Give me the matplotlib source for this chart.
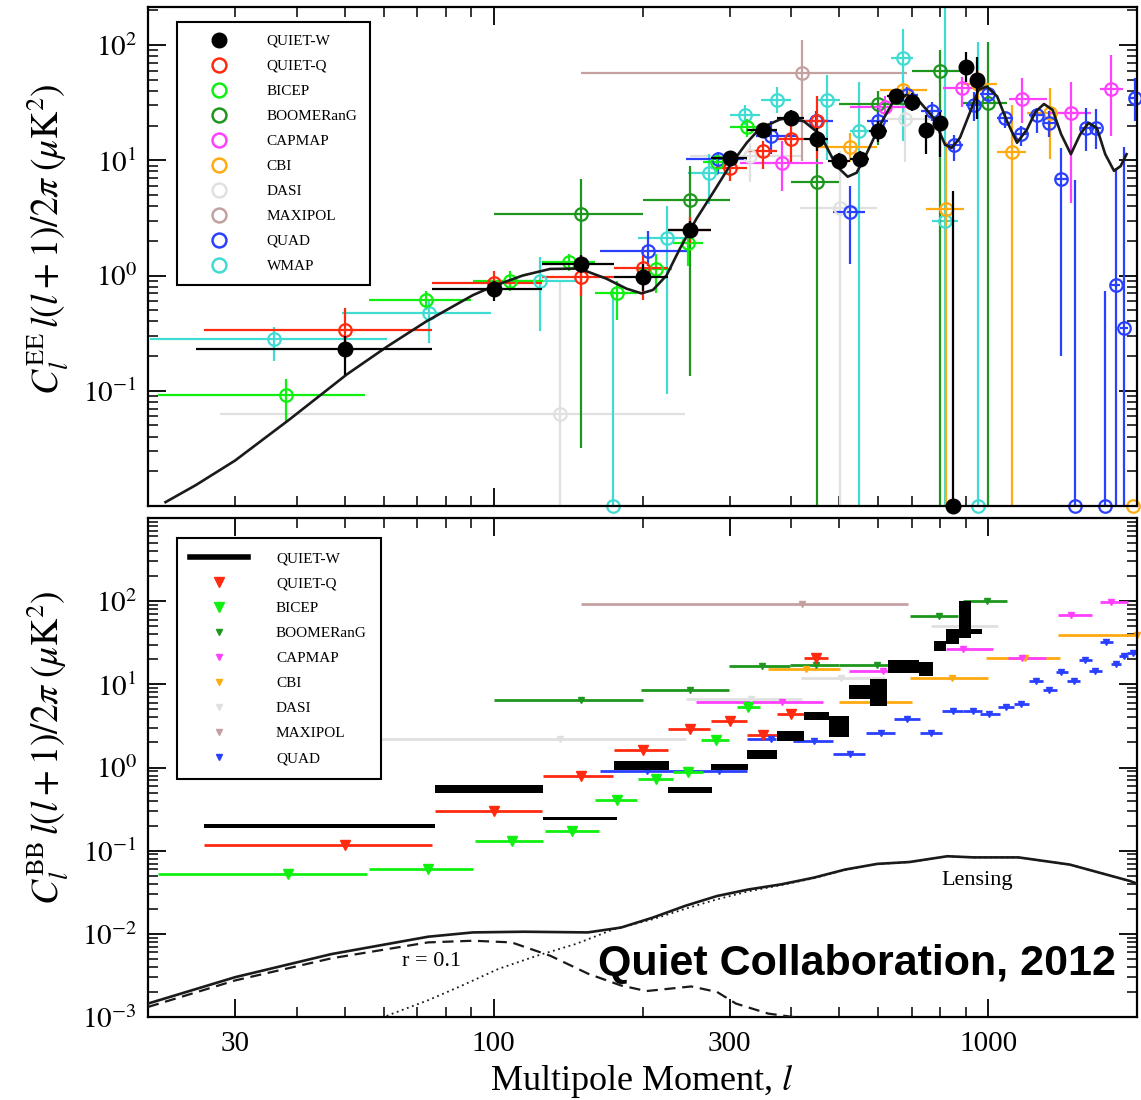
import numpy as np
import matplotlib
matplotlib.use("Agg")
import matplotlib.pyplot as plt
from matplotlib.lines import Line2D
from matplotlib.ticker import FixedLocator, NullFormatter, FixedFormatter

plt.rcParams["font.family"] = "serif"
plt.rcParams["font.serif"] = ["Liberation Serif", "DejaVu Serif"]
plt.rcParams["mathtext.fontset"] = "stix"

# ---------------- EE band powers ----------------
# each experiment: l, C_l, l range (lmin, lmax), error range (lo, hi)
qw_ee_l = [50, 100, 150, 200, 250, 300, 350, 400, 450, 500, 550, 600, 650, 700, 750, 800, 850, 900, 950]
qw_ee_cl = [0.23, 0.76, 1.25, 0.97, 2.5, 10.5, 18.3, 23.5, 15.4, 9.9, 10.2, 17.9, 36, 32, 18.5, 21, 0.01, 65, 50]
qw_ee_lmin = [25, 75, 125, 175, 225, 275, 325, 375, 425, 475, 525, 575, 625, 675, 725, 775, 825, 875, 925]
qw_ee_lmax = [75, 125, 175, 225, 275, 325, 375, 425, 475, 525, 575, 625, 675, 725, 775, 825, 875, 925, 975]
qw_ee_lo = [0.137, 0.60, 1.05, 0.73, 2.3, 9.3, 16.5, 20, 12, 8.5, 8.8, 14.5, 31, 27, 11.3, 10.6, 0.01, 48, 23]
qw_ee_hi = [0.30, 0.89, 1.5, 1.27, 3.0, 12, 20.5, 27.5, 19, 11.5, 12, 22, 41, 38, 24.8, 26.4, 5.4, 87, 79]

qq_ee_l = [50, 100, 150, 200, 250, 300, 350, 400, 450]
qq_ee_cl = [0.34, 0.87, 0.98, 1.17, 2.5, 8.5, 12, 15.4, 21.8]
qq_ee_lmin = [26, 75, 125, 175, 225, 275, 325, 375, 425]
qq_ee_lmax = [75, 125, 175, 225, 275, 325, 375, 425, 475]
qq_ee_lo = [0.235, 0.67, 0.66, 0.61, 1.9, 6.6, 8.4, 9.6, 10.2]
qq_ee_hi = [0.52, 1.1, 1.22, 1.78, 3.2, 9.8, 14.6, 20.4, 35.8]

bicep_ee_l = [38, 73, 108, 142, 178, 213, 247, 283, 326]
bicep_ee_cl = [0.092, 0.61, 0.90, 1.32, 0.70, 1.13, 1.92, 9.6, 19.5]
bicep_ee_lmin = [21, 56, 91, 125, 160, 196, 230, 265, 300]
bicep_ee_lmax = [55, 90, 126, 160, 195, 229, 265, 300, 350]
bicep_ee_lo = [0.055, 0.50, 0.73, 1.1, 0.41, 0.70, 1.22, 7.5, 16]
bicep_ee_hi = [0.127, 0.73, 1.1, 1.55, 0.89, 1.55, 2.4, 11.5, 23]

boom_ee_l = [150, 250, 450, 600, 800, 1000]
boom_ee_cl = [3.4, 4.5, 6.5, 30.8, 59, 31.4]
boom_ee_lmin = [100, 200, 400, 500, 700, 890]
boom_ee_lmax = [200, 300, 500, 700, 890, 1090]
boom_ee_lo = [0.032, 0.135, 0.01, 13.7, 0.01, 0.01]
boom_ee_hi = [6.9, 9.0, 10.2, 40, 90.5, 107]

capmap_ee_l = [383, 620, 887, 1171, 1468, 1772]
capmap_ee_cl = [9.4, 29, 42.4, 34.2, 25.8, 41.8]
capmap_ee_lmin = [315, 525, 812, 1100, 1331, 1683]
capmap_ee_lmax = [464, 700, 952, 1314, 1617, 1870]
capmap_ee_lo = [5.4, 24, 29.3, 21, 4.3, 16.2]
capmap_ee_hi = [14.6, 36, 53, 52, 48, 82]

cbi_ee_l = [525, 674, 820, 955, 1117, 1331, 1960]
cbi_ee_cl = [13.1, 41, 3.78, 46, 11.7, 25.8, 0.01]
cbi_ee_lmin = [453, 603, 750, 890, 1042, 1200, 1960]
cbi_ee_lmax = [597, 752, 895, 1040, 1191, 1515, 1960]
cbi_ee_lo = [9.6, 35.8, 0.01, 33, 0.01, 10.2, 0.01]
cbi_ee_hi = [17.4, 47, 14.3, 60, 30.4, 42.5, 0.01]

dasi_ee_l = [136, 330, 502, 680]
dasi_ee_cl = [0.063, 11, 3.83, 23]
dasi_ee_lmin = [28, 250, 416, 625]
dasi_ee_lmax = [244, 420, 597, 763]
dasi_ee_lo = [0.01, 6.5, 0.01, 9.6]
dasi_ee_hi = [0.89, 14, 12, 45]

maxipol_ee_l = [420]
maxipol_ee_cl = [57]
maxipol_ee_lmin = [150]
maxipol_ee_lmax = [685]
maxipol_ee_lo = [9.8]
maxipol_ee_hi = [110]

quad_ee_l = [205, 284, 364, 449, 525, 598, 685, 770, 852, 935, 1000, 1082, 1166, 1253, 1328, 1405,
             1496, 1574, 1650, 1723, 1812, 1885, 1981]
quad_ee_cl = [1.64, 10.2, 16.2, 21.8, 3.54, 22.1, 37, 27, 13.5, 30.4, 37.6, 23.3, 16.8, 24.6, 21.1, 6.86,
              0.01, 19.1, 19.1, 0.01, 0.83, 0.35, 34.7]
quad_ee_lmin = [164, 245, 340, 406, 485, 570, 650, 730, 815, 900, 962, 1040, 1125, 1210, 1295, 1365,
                1450, 1540, 1610, 1690, 1770, 1850, 1930]
quad_ee_lmax = [248, 325, 410, 485, 563, 626, 720, 805, 890, 970, 1025, 1125, 1210, 1295, 1365, 1445,
                1540, 1610, 1690, 1760, 1850, 1920, 2030]
quad_ee_lo = [1.22, 7.6, 11.3, 17, 1.27, 16.8, 29.3, 21.8, 9.8, 21.8, 31.4, 19.1, 13.3, 17.4, 16, 0.2,
              0.01, 12, 12.5, 0.01, 0.01, 0.01, 21.8]
quad_ee_hi = [2.44, 11.9, 21.8, 27, 6.0, 28.6, 43.6, 32, 16.7, 39.5, 41, 26.4, 19.7, 28.6, 27, 12.9,
              6.8, 28.6, 28, 0.73, 8.5, 13, 52]

wmap_ee_l = [36, 74, 124, 174, 224, 273, 322, 374, 473, 548, 672, 818, 955]
wmap_ee_cl = [0.28, 0.47, 0.89, 0.01, 2.11, 7.8, 24.9, 33.6, 33.6, 17.9, 76.8, 3.0, 0.01]
wmap_ee_lmin = [20.2, 49.3, 99, 174, 196, 247, 300, 348, 448, 525, 636, 770, 955]
wmap_ee_lmax = [61, 99, 147, 174, 245, 300, 345, 400, 502, 575, 706, 870, 955]
wmap_ee_lo = [0.18, 0.26, 0.33, 0.01, 0.093, 4.2, 20.4, 25.7, 10, 0.01, 14.6, 0.01, 0.01]
wmap_ee_hi = [0.36, 0.61, 1.46, 0.73, 4.04, 11.3, 30, 43.6, 55, 48, 139, 220, 106]

# LCDM EE model curve
ee_model_l = [21.7, 25, 30, 38.7, 50.4, 61, 73.1, 90.8, 100, 114.5, 130, 149, 169, 185.6, 199, 210, 223.6,
              238, 257, 278, 300, 325, 345, 379, 397, 424, 457, 494, 520, 542, 567, 605, 643, 685, 728,
              775, 818, 844, 877, 920, 956, 994, 1043, 1092, 1144, 1198, 1247, 1297, 1350, 1405, 1470,
              1535, 1596, 1659, 1725, 1797, 1853, 1905]
ee_model_cl = [0.0108, 0.0152, 0.0248, 0.0566, 0.138, 0.243, 0.40, 0.676, 0.81, 1.0, 1.14, 1.15, 0.94,
               0.77, 0.70, 0.75, 1.0, 1.71, 3.1, 5.27, 8.9, 14.2, 18.8, 22.6, 23.4, 21.8, 16.8, 8.9, 7.2,
               7.8, 11.3, 20.4, 32.5, 37, 32, 23.4, 13.7, 12.8, 15.7, 26.4, 41, 43.6, 35.8, 21.8, 14.2,
               18.5, 26.4, 30.8, 27.4, 16.8, 11.3, 16.8, 21.1, 19.1, 11.3, 8.1, 8.9, 11.3]

# ---------------- BB ----------------
# QUIET-W: ranges (lmin, lmax, lo, hi)
qw_bb_lmin = [26, 76, 126, 175, 225, 275, 326, 375, 425, 477, 524, 577, 626, 724, 778, 821, 874, 925]
qw_bb_lmax = [76, 126, 178, 226, 277, 327, 375, 425, 477, 523, 577, 624, 724, 775, 821, 874, 925, 970]
qw_bb_lo = [0.187, 0.50, 0.232, 0.93, 0.498, 0.93, 1.25, 2.08, 3.74, 2.33, 6.67, 5.55, 13.6, 12.7, 25.2, 30.3, 36.4, 39.8]
qw_bb_hi = [0.21, 0.61, 0.253, 1.19, 0.577, 1.116, 1.64, 2.74, 4.63, 4.2, 9.9, 11.6, 19.5, 18.6, 33.2, 45.8, 99.7, 45.8]

# upper limits: lmin, lmax, l, limit
qq_bb_lmin = [26, 76, 126, 175, 225, 275, 326, 375, 425]
qq_bb_lmax = [75, 125, 174, 225, 274, 325, 374, 425, 475]
qq_bb_l = [50, 100, 150, 200, 250, 300, 350, 400, 449]
qq_bb_lim = [0.117, 0.30, 0.80, 1.61, 2.87, 3.61, 2.48, 4.42, 21]

bicep_bb_lmin = [21, 56, 91.5, 127, 160, 196, 230, 263, 310]
bicep_bb_lmax = [55.5, 91, 126, 163, 195, 230, 265, 299, 345]
bicep_bb_l = [38.4, 73.7, 109, 144, 177.6, 212.7, 247, 282, 327]
bicep_bb_lim = [0.052, 0.061, 0.129, 0.172, 0.407, 0.725, 0.89, 2.16, 5.3]

boom_bb_lmin = [100, 199, 299, 398, 500, 696, 890]
boom_bb_lmax = [200, 299, 398, 500, 700, 870, 1093]
boom_bb_l = [150, 249, 349, 449, 597, 795, 994]
boom_bb_lim = [6.44, 8.55, 16.7, 16.9, 17.3, 66, 101.6]

capmap_bb_lmin = [257, 523, 821, 1099, 1387, 1682]
capmap_bb_lmax = [464, 718, 1022, 1310, 1622, 1920]
capmap_bb_l = [383, 614, 888, 1170, 1468, 1770]
capmap_bb_lim = [6.1, 14.6, 26.9, 21, 67.3, 97]

cbi_bb_lmin = [358, 499, 696, 990, 1387]
cbi_bb_lmax = [502, 700, 998, 1400, 2000]
cbi_bb_l = [428, 595, 844, 1185, 2000]
cbi_bb_lim = [15.2, 6.1, 12, 21, 38.8]

dasi_bb_lmin = [28, 245, 418, 766]
dasi_bb_lmax = [245, 420, 620, 1046]
dasi_bb_l = [136, 332, 504, 895]
dasi_bb_lim = [2.22, 6.67, 12, 50.1]

maxipol_bb_lmin = [150]
maxipol_bb_lmax = [690]
maxipol_bb_l = [420]
maxipol_bb_lim = [92.9]

quad_bb_lmin = [164, 245, 325, 403, 486, 566, 645, 729, 808, 888, 962, 1048, 1130, 1207, 1294, 1370,
                1445, 1525, 1600, 1680, 1770, 1840, 1910]
quad_bb_lmax = [245, 325, 373, 486, 563, 647, 729, 808, 888, 972, 1055, 1130, 1211, 1294, 1377, 1451,
                1535, 1620, 1700, 1785, 1854, 1920, 2000]
quad_bb_l = [204, 285, 364, 444, 526, 608, 686, 768, 848, 930, 1006, 1088, 1166, 1248, 1325, 1406,
             1492, 1570, 1646, 1730, 1812, 1886, 1960]
quad_bb_lim = [0.92, 0.92, 2.22, 2.06, 1.47, 2.62, 3.82, 2.62, 4.84, 4.84, 4.42, 5.4, 5.8, 10.9, 8.55,
               13.9, 10.9, 19.5, 14.5, 32.3, 17.8, 22, 23.5]

# BB model curves
bb_total_l = [20, 30, 47, 73.7, 90.8, 115, 155, 181, 210, 244, 283, 328, 381, 443, 514, 597, 693, 827,
              935, 1152, 1463, 1940, 2000]
bb_total_cl = [0.00145, 0.00301, 0.00571, 0.00923, 0.0104, 0.0106, 0.0104, 0.0119, 0.0157, 0.0217,
               0.0285, 0.0342, 0.0393, 0.0472, 0.0593, 0.0694, 0.073, 0.0857, 0.083, 0.083, 0.068,
               0.043, 0.040]
bb_tensor_l = [20, 30, 47, 73.7, 90.8, 108.7, 130, 155.5, 180.7, 203.6, 251, 283, 309, 359, 429, 500]
bb_tensor_cl = [0.00132, 0.00275, 0.00508, 0.00789, 0.00826, 0.00789, 0.00547, 0.0033, 0.0024,
                0.00205, 0.00233, 0.0020, 0.00145, 0.0011, 0.00095, 0.0007]
bb_lens_l = [58, 62.5, 73.7, 85.5, 102.3, 122.5, 146.5, 175.3, 210, 244, 283, 328, 381, 443, 514, 597,
             693, 827, 935, 1152, 1463, 1940, 2000]
bb_lens_cl = [0.00092, 0.0011, 0.00159, 0.00233, 0.00379, 0.00547, 0.00754, 0.0114, 0.0150, 0.0200,
              0.0260, 0.0325, 0.0385, 0.0465, 0.0588, 0.069, 0.0728, 0.0855, 0.083, 0.083, 0.068,
              0.043, 0.040]

names = ["QUIET-W", "QUIET-Q", "BICEP", "BOOMERanG", "CAPMAP", "CBI", "DASI", "MAXIPOL", "QUAD", "WMAP"]
colors = {
    "QUIET-W": "black",
    "QUIET-Q": "#ff2a10",
    "BICEP": "#10f010",
    "BOOMERanG": "#1e961e",
    "CAPMAP": "#ff40ff",
    "CBI": "#ffaa10",
    "DASI": "#e0e0e0",
    "MAXIPOL": "#c4a0a0",
    "QUAD": "#2a40ff",
    "WMAP": "#40dcd4",
}


def draw_ee(ax, l, cl, lmin, lmax, lo, hi, color, filled=False, z=2):
    l = np.array(l, float)
    cl = np.array(cl, float)
    xerr = [l - np.array(lmin), np.array(lmax) - l]
    yerr = [cl - np.array(lo), np.array(hi) - cl]
    ax.errorbar(l, cl, xerr=xerr, yerr=yerr, fmt="none", ecolor=color,
                elinewidth=1.6, capsize=0, zorder=z)
    if filled:
        ax.plot(l, cl, "o", ms=10.5, mfc=color, mec=color, ls="none",
                clip_on=False, zorder=z + 0.1)
    else:
        ax.plot(l, cl, "o", ms=9, mfc="none", mec=color, mew=1.6, ls="none",
                clip_on=False, zorder=z + 0.1)


def draw_bb(ax, lmin, lmax, l, lim, color, ms=5, z=2):
    ax.hlines(lim, lmin, lmax, colors=color, lw=2, zorder=z)
    ax.plot(l, lim, "v", ms=ms, color=color, ls="none", clip_on=False, zorder=z + 0.1)


def style_axes(ax, xmajor, ymajor, ylabels):
    ax.set_xscale("log")
    ax.set_yscale("log")
    ax.set_xlim(20, 2000)
    ax.xaxis.set_major_locator(FixedLocator(xmajor))
    minors = [v for v in [20, 30, 40, 50, 60, 70, 80, 90, 200, 300, 400, 500, 600, 700, 800, 900, 2000]
              if v not in xmajor]
    ax.xaxis.set_minor_locator(FixedLocator(minors))
    ax.xaxis.set_minor_formatter(NullFormatter())
    ax.yaxis.set_major_locator(FixedLocator(ymajor))
    ax.yaxis.set_major_formatter(FixedFormatter(ylabels))
    ym = []
    for d in range(-3, 3):
        for k in range(2, 10):
            ym.append(k * 10.0 ** d)
    ax.yaxis.set_minor_locator(FixedLocator(ym))
    ax.yaxis.set_minor_formatter(NullFormatter())
    ax.tick_params(which="both", direction="in", top=True, right=True, labelsize=21)
    ax.tick_params(which="major", length=13, width=1.3, pad=8)
    ax.tick_params(which="minor", length=7, width=1.1)
    for s in ax.spines.values():
        s.set_linewidth(1.6)


fig = plt.figure(figsize=(11.41, 11.0), dpi=100)
ax1 = fig.add_axes([148 / 1141, 594 / 1100, 989 / 1141, 499 / 1100])
ax2 = fig.add_axes([148 / 1141, 83 / 1100, 989 / 1141, 499 / 1100])

# ---- top panel: EE ----
draw_ee(ax1, dasi_ee_l, dasi_ee_cl, dasi_ee_lmin, dasi_ee_lmax, dasi_ee_lo, dasi_ee_hi, colors["DASI"])
draw_ee(ax1, maxipol_ee_l, maxipol_ee_cl, maxipol_ee_lmin, maxipol_ee_lmax, maxipol_ee_lo, maxipol_ee_hi, colors["MAXIPOL"])
draw_ee(ax1, wmap_ee_l, wmap_ee_cl, wmap_ee_lmin, wmap_ee_lmax, wmap_ee_lo, wmap_ee_hi, colors["WMAP"])
draw_ee(ax1, boom_ee_l, boom_ee_cl, boom_ee_lmin, boom_ee_lmax, boom_ee_lo, boom_ee_hi, colors["BOOMERanG"])
draw_ee(ax1, cbi_ee_l, cbi_ee_cl, cbi_ee_lmin, cbi_ee_lmax, cbi_ee_lo, cbi_ee_hi, colors["CBI"])
draw_ee(ax1, capmap_ee_l, capmap_ee_cl, capmap_ee_lmin, capmap_ee_lmax, capmap_ee_lo, capmap_ee_hi, colors["CAPMAP"])
draw_ee(ax1, quad_ee_l, quad_ee_cl, quad_ee_lmin, quad_ee_lmax, quad_ee_lo, quad_ee_hi, colors["QUAD"])
draw_ee(ax1, bicep_ee_l, bicep_ee_cl, bicep_ee_lmin, bicep_ee_lmax, bicep_ee_lo, bicep_ee_hi, colors["BICEP"])
draw_ee(ax1, qq_ee_l, qq_ee_cl, qq_ee_lmin, qq_ee_lmax, qq_ee_lo, qq_ee_hi, colors["QUIET-Q"])
ax1.plot(ee_model_l, ee_model_cl, color="#1a1a1a", lw=1.9, zorder=3)
draw_ee(ax1, qw_ee_l, qw_ee_cl, qw_ee_lmin, qw_ee_lmax, qw_ee_lo, qw_ee_hi, colors["QUIET-W"], filled=True, z=4)

ax1.set_ylim(0.01, 214)
style_axes(ax1, [100, 1000], [0.1, 1, 10, 100],
           [r"$10^{-1}$", r"$10^{0}$", r"$10^{1}$", r"$10^{2}$"])
ax1.tick_params(axis="x", labelbottom=False)
ax1.set_ylabel(r"$C_l^{\rm EE}\,l(l+1)/2\pi\;(\mu{\rm K}^2)$", fontsize=27)
ax1.yaxis.set_label_coords(-0.078, 0.535)

h1 = []
for n in names:
    if n == "QUIET-W":
        h1.append(Line2D([], [], marker="o", ls="none", ms=10.5, mfc="black", mec="black"))
    else:
        h1.append(Line2D([], [], marker="o", ls="none", ms=10, mfc="none", mec=colors[n], mew=1.8))
leg1 = ax1.legend(h1, names, loc="upper left", bbox_to_anchor=(0.029, 0.97), fontsize=11,
                  frameon=True, fancybox=False, framealpha=1, edgecolor="black",
                  borderpad=0.8, labelspacing=0.74, handlelength=4.0, handletextpad=1.1,
                  borderaxespad=0)
leg1.get_frame().set_linewidth(1.5)
leg1.set_zorder(10)

# ---- bottom panel: BB ----
draw_bb(ax2, dasi_bb_lmin, dasi_bb_lmax, dasi_bb_l, dasi_bb_lim, colors["DASI"])
draw_bb(ax2, maxipol_bb_lmin, maxipol_bb_lmax, maxipol_bb_l, maxipol_bb_lim, colors["MAXIPOL"])
draw_bb(ax2, boom_bb_lmin, boom_bb_lmax, boom_bb_l, boom_bb_lim, colors["BOOMERanG"])
draw_bb(ax2, cbi_bb_lmin, cbi_bb_lmax, cbi_bb_l, cbi_bb_lim, colors["CBI"])
draw_bb(ax2, capmap_bb_lmin, capmap_bb_lmax, capmap_bb_l, capmap_bb_lim, colors["CAPMAP"])
draw_bb(ax2, quad_bb_lmin, quad_bb_lmax, quad_bb_l, quad_bb_lim, colors["QUAD"])
draw_bb(ax2, bicep_bb_lmin, bicep_bb_lmax, bicep_bb_l, bicep_bb_lim, colors["BICEP"], ms=7)
draw_bb(ax2, qq_bb_lmin, qq_bb_lmax, qq_bb_l, qq_bb_lim, colors["QUIET-Q"], ms=7)
qw_lo = np.array(qw_bb_lo)
ax2.bar(qw_bb_lmin, np.array(qw_bb_hi) - qw_lo, width=np.array(qw_bb_lmax) - np.array(qw_bb_lmin),
        bottom=qw_lo, align="edge", color="black", linewidth=0, zorder=4)

ax2.plot(bb_total_l, bb_total_cl, color="#1a1a1a", lw=1.9, zorder=3)
ax2.plot(bb_tensor_l, bb_tensor_cl, color="#1a1a1a", lw=1.6, ls=(0, (5, 3)), zorder=3)
ax2.plot(bb_lens_l, bb_lens_cl, color="#1a1a1a", lw=1.3, ls=(0, (1, 2)), zorder=3)
ax2.text(950, 0.044, "Lensing", fontsize=16, ha="center", va="center")
ax2.text(75, 0.0047, "r = 0.1", fontsize=16, ha="center", va="center")

ax2.set_ylim(1e-3, 1e3)
style_axes(ax2, [30, 100, 300, 1000], [1e-3, 1e-2, 1e-1, 1, 10, 100],
           [r"$10^{-3}$", r"$10^{-2}$", r"$10^{-1}$", r"$10^{0}$", r"$10^{1}$", r"$10^{2}$"])
ax2.xaxis.set_major_formatter(FixedFormatter(["30", "100", "300", "1000"]))
ax2.tick_params(axis="x", pad=10)
ax2.set_ylabel(r"$C_l^{\rm BB}\,l(l+1)/2\pi\;(\mu{\rm K}^2)$", fontsize=27)
ax2.yaxis.set_label_coords(-0.078, 0.54)
ax2.set_xlabel(r"Multipole Moment, $l$", fontsize=26)
ax2.xaxis.set_label_coords(0.5, -0.09)

h2 = [Line2D([], [], color="black", lw=4)]
for n in names[1:-1]:
    ms = 7 if n in ("QUIET-Q", "BICEP") else 5
    h2.append(Line2D([], [], marker="v", ls="none", ms=ms, color=colors[n]))
leg2 = ax2.legend(h2, names[:-1], loc="upper left", bbox_to_anchor=(0.029, 0.96), fontsize=11,
                  frameon=True, fancybox=False, framealpha=1, edgecolor="black",
                  borderpad=0.9, labelspacing=0.74, handlelength=3.8, handletextpad=1.8,
                  borderaxespad=0)
leg2.get_frame().set_linewidth(1.5)
leg2.set_zorder(10)

fig.text(598 / 1141, 125 / 1100, "Quiet Collaboration, 2012", fontsize=31, fontweight="bold",
         family="Liberation Sans", ha="left", va="baseline")

fig.savefig("out.png", dpi=100)
